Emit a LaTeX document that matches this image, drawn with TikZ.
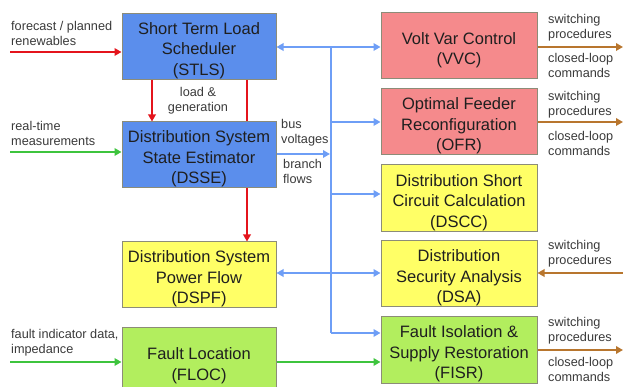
\documentclass[tikz,border=0pt]{standalone}
\usepackage{fontspec}
\setmainfont{Liberation Sans}
\usetikzlibrary{arrows.meta,calc}
\definecolor{bxblue}{HTML}{5B8EEC}
\definecolor{bxpink}{HTML}{F58A8C}
\definecolor{bxyellow}{HTML}{FFFF66}
\definecolor{bxgreen}{HTML}{B2EE5E}
\definecolor{bxborder}{HTML}{8C8C78}
\definecolor{arblue}{HTML}{6E9EF6}
\definecolor{arred}{HTML}{E4141C}
\definecolor{argreen}{HTML}{3EC43E}
\definecolor{arbrown}{HTML}{B8762E}
\definecolor{lbl}{HTML}{3A3A3A}
\newcommand{\tp}{\rule{0pt}{20pt}}
\tikzset{
  box/.style={draw=bxborder, line width=1pt, minimum width=154pt, minimum height=66pt,
    inner sep=0pt, align=center, text=black!88,
    font=\fontsize{16.5pt}{20.5pt}\selectfont},
  rbox/.style={box, minimum width=156pt},
  lab/.style={inner sep=0pt, align=left, text=lbl, font=\fontsize{12.7pt}{15pt}\selectfont},
  labc/.style={lab, align=center},
  conn/.style={line width=2.8pt, -{Triangle[length=7pt,width=7.5pt]}},
  conn2/.style={line width=2.8pt, {Triangle[length=7pt,width=7.5pt]}-{Triangle[length=7pt,width=7.5pt]}},
  connr/.style={line width=2.8pt, {Triangle[length=7pt,width=7.5pt]}-},
  plain/.style={line width=2.8pt},
}
\begin{document}
\begin{tikzpicture}[x=1pt,y=-1pt]
\useasboundingbox (0,0) rectangle (624,387);
% coordinates
\coordinate (busTop) at (331,47);
\coordinate (busBot) at (331,333);
\coordinate (r1) at (152,0);
\coordinate (r2) at (247,0);
\coordinate (fc) at (10,52);
\coordinate (rt) at (10,152);
\coordinate (fi) at (10,362);
\coordinate (eR) at (623,0);
\coordinate (ySS) at (0,154);
\coordinate (yDSCC) at (0,194);
\coordinate (yDSA) at (0,273);
\coordinate (yFISR) at (0,333);
\coordinate (yFL) at (0,362);
\coordinate (yVVC) at (0,47);
\coordinate (yOFR) at (0,122);
\coordinate (yFISRo) at (0,350);

% left boxes
\node[box, fill=bxblue] (STLS) at (199,46.5) {\tp Short Term Load\\Scheduler\\(STLS)};
\node[box, fill=bxblue] (DSSE) at (199,155) {\tp Distribution System\\State Estimator\\(DSSE)};
\node[box, fill=bxyellow] (DSPF) at (199,275) {\tp Distribution System\\Power Flow\\(DSPF)};
\node[box, fill=bxgreen, minimum height=67pt] (FLOC) at (199,361.5) {\tp Fault Location\\(FLOC)};

% right boxes
\node[rbox, fill=bxpink] (VVC) at (459,46) {\tp Volt Var Control\\(VVC)};
\node[rbox, fill=bxpink] (OFR) at (459,122) {\tp Optimal Feeder\\Reconfiguration\\(OFR)};
\node[rbox, fill=bxyellow, minimum height=67pt] (DSCC) at (459,198.5) {\tp Distribution Short\\Circuit Calculation\\(DSCC)};
\node[rbox, fill=bxyellow] (DSA) at (459,274) {\tp Distribution\\Security Analysis\\(DSA)};
\node[rbox, fill=bxgreen] (FISR) at (459,350) {\tp Fault Isolation \&\\Supply Restoration\\(FISR)};

% blue bus
\draw[plain, arblue] (busTop) -- (busBot);
\draw[conn2, arblue] (STLS.east |- yVVC) -- (VVC.west |- yVVC);
\draw[conn, arblue] (busTop |- yOFR) -- (OFR.west |- yOFR);
\draw[conn, arblue] (busTop |- yDSCC) -- (DSCC.west |- yDSCC);
\draw[conn2, arblue] (DSPF.east |- yDSA) -- (DSA.west |- yDSA);
\draw[conn, arblue] (busBot) -- (FISR.west |- yFISR);
\draw[conn, arblue] (DSSE.east |- ySS) -- ($(busTop |- ySS)+(-1,0)$);

% red
\draw[conn, arred] (fc) -- (fc -| STLS.west);
\draw[conn, arred] (STLS.south -| r1) -- (DSSE.north -| r1);
\draw[plain, arred] (STLS.south -| r2) -- (DSSE.north -| r2);
\draw[conn, arred] (DSSE.south -| r2) -- (DSPF.north -| r2);

% green
\draw[conn, argreen] (rt) -- (rt -| DSSE.west);
\draw[conn, argreen] (fi) -- (fi -| FLOC.west);
\draw[conn, argreen] (FLOC.east |- yFL) -- (FISR.west |- yFL);

% brown
\draw[conn, arbrown] (VVC.east |- yVVC) -- (eR |- yVVC);
\draw[conn, arbrown] (OFR.east |- yOFR) -- (eR |- yOFR);
\draw[connr, arbrown] (DSA.east |- yDSA) -- (eR |- yDSA);
\draw[conn, arbrown] (FISR.east |- yFISRo) -- (eR |- yFISRo);

% labels
\node[lab, anchor=west] (lfc) at (11,33.5) {forecast / planned\\renewables};
\node[labc] (lload) at (198,100.5) {load \&\\generation};
\node[lab, anchor=west] (lrt) at (11,133) {real-time\\measurements};
\node[lab, anchor=west] (lbus) at (281,133) {bus\\voltages};
\node[lab, anchor=west] (lbr) at (283,171.5) {branch\\flows};
\node[lab, anchor=west] (lfi) at (11,342.5) {fault indicator data,\\impedance};
\node[lab, anchor=west] (s1) at (548,27.5) {switching\\procedures};
\node[lab, anchor=west] (c1) at (548,65.5) {closed-loop\\commands};
\node[lab, anchor=west] (s2) at (548,105) {switching\\procedures};
\node[lab, anchor=west] (c2) at (548,143) {closed-loop\\commands};
\node[lab, anchor=west] (s3) at (548,253.5) {switching\\procedures};
\node[lab, anchor=west] (s4) at (548,331) {switching\\procedures};
\node[lab, anchor=west] (c4) at (548,369.5) {closed-loop\\commands};
\end{tikzpicture}
\end{document}
